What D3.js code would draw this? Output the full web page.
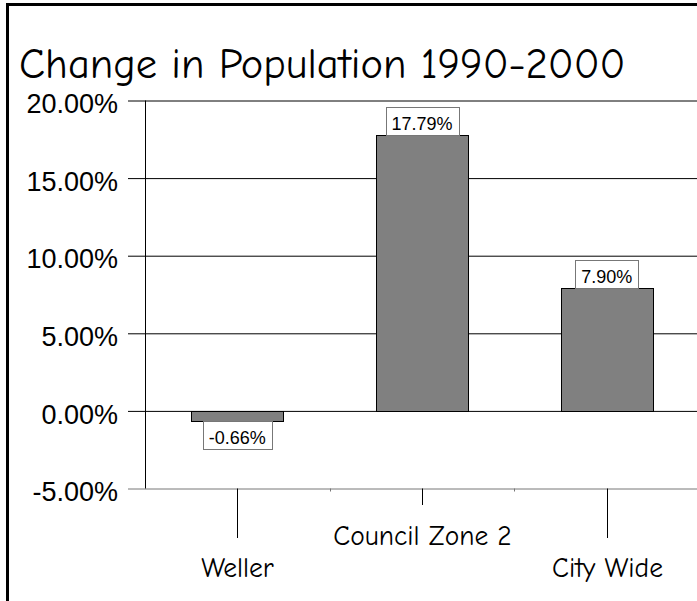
<!DOCTYPE html>
<html>
<head>
<meta charset="utf-8">
<script src="https://cdn.jsdelivr.net/npm/d3@7"></script>
<style>
  body { margin: 0; background: #fff; }
  svg { display: block; }
</style>
</head>
<body>
<script>
/* Define data. */
const categories = ["Weller", "Council Zone 2", "City Wide"]
const values = [-0.66, 17.79, 7.90]
const yTicks = [-5, 0, 5, 10, 15, 20]
const titleText = "Change in Population 1990-2000"

/* Define svg-size. */
const width = 697
const height = 601
const handFont = "\"Comic Sans MS\", \"Comic Neue\", \"Noto Sans\", sans-serif"
const numFont = "\"Liberation Sans\", Arial, sans-serif"

/* Percent format with a plain hyphen for negatives. */
const pct = d => d3.format(".2f")(d).replace("\u2212", "-") + "%"

/* Create svg-element. */
const svg = d3.select("body")
  .append("svg")
  .attr("width", width)
  .attr("height", height)

/* Outer frame, cut off at the right and bottom. */
svg.append("rect")
  .attr("x", 7.5)
  .attr("y", 4.5)
  .attr("width", 900)
  .attr("height", 900)
  .attr("fill", "none")
  .attr("stroke", "#000")
  .attr("stroke-width", 3)

/* Title. */
svg.append("text")
  .attr("x", 19)
  .attr("y", 78)
  .attr("font-family", handFont)
  .attr("font-size", 42.5)
  .attr("fill", "#000")
  .text(titleText)

/* Define scales. */
const y = d3.scaleLinear()
  .domain([-5, 20])
  .range([488.5, 100.5])

const x = d3.scaleBand()
  .domain(categories)
  .range([145, 699])
  .paddingInner(0.5)
  .paddingOuter(0.25)

const step = x.step()
const left = 145

/* Gridlines and y-axis. */
const yAxis = d3.axisLeft(y)
  .tickValues(yTicks)
  .tickSize(-(width - 128))
  .tickPadding(0)
  .tickFormat(pct)

const gy = svg.append("g")
  .attr("transform", "translate(128,0)")
  .call(yAxis)

gy.select(".domain").remove()
gy.selectAll(".tick line")
  .attr("x1", 0)
  .attr("x2", width)
  .attr("stroke", (d) => d === -5 ? "#777" : "#000")
gy.selectAll(".tick text")
  .attr("x", -10)
  .attr("dy", "0.45em")
  .attr("font-family", numFont)
  .attr("font-size", 27)
  .attr("fill", "#000")

svg.append("line")
  .attr("x1", left + 0.5)
  .attr("x2", left + 0.5)
  .attr("y1", y(20))
  .attr("y2", y(-5))
  .attr("stroke", "#000")

/* Category separators (small marks on the baseline). */
svg.selectAll(".sep")
  .data(d3.range(1, categories.length))
  .enter()
  .append("line")
  .attr("class", "sep")
  .attr("x1", i => Math.round(left + i * step) + 0.5)
  .attr("x2", i => Math.round(left + i * step) + 0.5)
  .attr("y1", y(-5))
  .attr("y2", y(-5) + 3)
  .attr("stroke", "#777")

/* Bars. */
svg.selectAll(".bar")
  .data(values)
  .enter()
  .append("rect")
  .attr("class", "bar")
  .attr("x", (d, i) => Math.round(x(categories[i])) + 0.5)
  .attr("width", Math.round(x.bandwidth()))
  .attr("y", d => Math.round(y(Math.max(0, d))) + 0.5)
  .attr("height", d => Math.round(Math.abs(y(d) - y(0))))
  .attr("fill", "#808080")
  .attr("stroke", "#000")
  .attr("stroke-width", 1)

/* Data labels in boxes. */
const boxH = 28
const labels = svg.selectAll(".lab")
  .data(values)
  .enter()
  .append("g")
  .attr("class", "lab")

labels.append("rect")
labels.append("text")
  .attr("font-family", numFont)
  .attr("font-size", 18)
  .attr("text-anchor", "middle")
  .attr("fill", "#000")
  .text(pct)

labels.each(function(d, i) {
  const g = d3.select(this)
  const cx = x(categories[i]) + x.bandwidth() / 2
  const tw = g.select("text").node().getComputedTextLength()
  const bw = Math.round(tw + 12)
  const top = d >= 0 ? Math.round(y(d)) - boxH : Math.round(y(d))
  g.select("rect")
    .attr("x", Math.round(cx - bw / 2) + 0.5)
    .attr("y", top + 0.5)
    .attr("width", bw)
    .attr("height", boxH)
    .attr("fill", "#fff")
    .attr("stroke", "#777")
  g.select("text")
    .attr("x", cx)
    .attr("y", top + 23)
})

/* Category ticks and staggered labels. */
const cats = svg.selectAll(".cat")
  .data(categories)
  .enter()
  .append("g")
  .attr("class", "cat")
  .attr("transform", d => `translate(${Math.round(x(d) + x.bandwidth() / 2) + 0.5},0)`)

cats.append("line")
  .attr("y1", y(-5))
  .attr("y2", (d, i) => i % 2 ? 505 : 538)
  .attr("stroke", "#000")

cats.append("text")
  .attr("y", (d, i) => i % 2 ? 545 : 577)
  .attr("text-anchor", "middle")
  .attr("font-family", handFont)
  .attr("font-size", 27.5)
  .attr("fill", "#000")
  .text(d => d)
</script>
</body>
</html>
